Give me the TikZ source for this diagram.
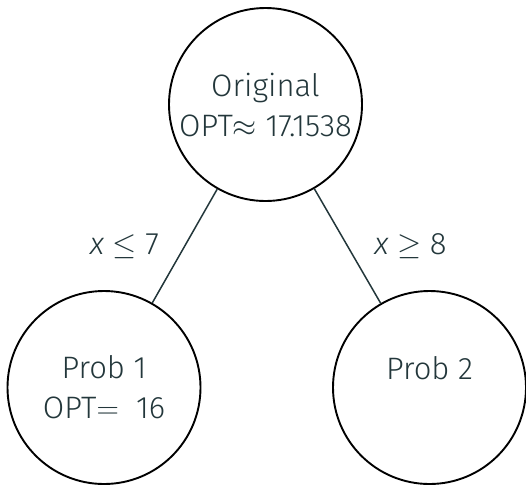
\RequirePackage{fix-cm}
\documentclass[tikz,border=0pt]{standalone}
\usepackage{fontspec}
\setmainfont{Fira Sans Light}[ItalicFont={Fira Sans Light Italic}]
\definecolor{mdark}{HTML}{23373B}
\begin{document}
\begin{tikzpicture}[x=1pt,y=-1pt,
  probnode/.style={circle,draw=black,line width=1.9pt,minimum size=193pt,inner sep=0pt,
    text=mdark,align=center,font=\fontsize{31}{40}\selectfont},
  branch/.style={draw=mdark,line width=1.5pt},
  cond/.style={text=mdark,font=\fontsize{31}{38}\selectfont,inner sep=0pt}]
\useasboundingbox (0,0) rectangle (526,485);
\node[probnode] (orig) at (265.5,104.5) {Original\\OPT$\approx$ 17.1538};
\node[probnode] (p1) at (104,387.5) {Prob 1\\OPT$=$ \ 16};
\node[probnode] (p2) at (429.5,387.5) {Prob 2\\\mbox{}};
\draw[branch] (orig) -- node[cond,midway,left=25pt] (l1) {\textit{x} $\leq$ 7} (p1);
\draw[branch] (orig) -- node[cond,midway,right=26pt] (l2) {\textit{x} $\geq$ 8} (p2);
\end{tikzpicture}
\end{document}
